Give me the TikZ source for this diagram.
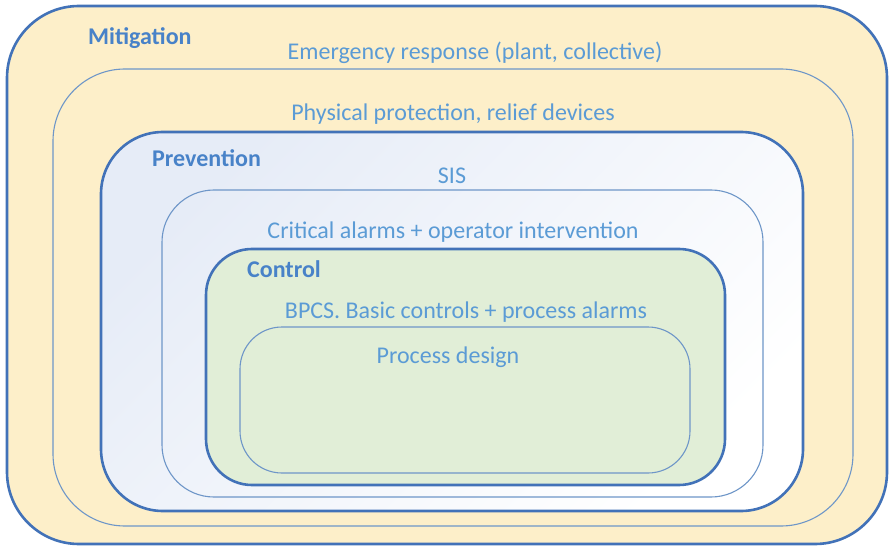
\documentclass[tikz,border=0pt]{standalone}
\usepackage{fontspec}
\setmainfont{Carlito}
\usetikzlibrary{fit}

\definecolor{lineblue}{RGB}{66,114,184}
\definecolor{thinblue}{RGB}{110,150,200}
\definecolor{textblue}{RGB}{91,155,213}
\definecolor{headblue}{RGB}{72,130,200}
\definecolor{mitfill}{RGB}{253,239,201}
\definecolor{prevfill}{RGB}{230,236,247}
\definecolor{ctrlfill}{RGB}{225,238,215}

\begin{document}
\begin{tikzpicture}[
  x=1pt, y=-1pt,
  font=\fontsize{24}{28}\selectfont,
  layer/.style={draw=lineblue, line width=2.6pt, inner sep=0pt},
  ring/.style={draw=thinblue, line width=1.1pt, inner sep=0pt},
  lbl/.style={text=textblue, inner sep=0pt, anchor=base},
  head/.style={text=headblue, font=\fontsize{24}{28}\selectfont\bfseries, inner sep=0pt, anchor=base west}
]
\useasboundingbox[fill=white] (0,0) rectangle (891,548);

% outer layers
\node[layer, fill=mitfill, rounded corners=72pt, fit={(7,6) (887,544)}] (mitigation) {};
\node[ring, rounded corners=72pt, fit={(53,69) (853,526)}] (response) {};
\node[layer, top color=prevfill, bottom color=white, shading angle=45,
      rounded corners=62pt, fit={(101,132) (803,511)}] (prevention) {};
\node[ring, rounded corners=52pt, fit={(162,190) (763,497)}] (alarms) {};
\node[layer, fill=ctrlfill, rounded corners=46pt, fit={(206,249) (725,485)}] (control) {};
\node[ring, rounded corners=42pt, fit={(240,327) (690,473)}] (design) {};

% labels
\node[head] (mitigationlbl) at (88,45) {Mitigation};
\node[lbl] (responselbl) at (475,60) {Emergency response (plant, collective)};
\node[lbl] (protectionlbl) at (453,121) {Physical protection, relief devices};
\node[head] (preventionlbl) at (152,167) {Prevention};
\node[lbl] (sislbl) at (452,184) {SIS};
\node[lbl] (alarmslbl) at (453,238) {Critical alarms + operator intervention};
\node[head] (controllbl) at (247,277) {Control};
\node[lbl] (bpcslbl) at (466,318) {BPCS. Basic controls + process alarms};
\node[lbl] (designlbl) at (448,363) {Process design};
\end{tikzpicture}
\end{document}
